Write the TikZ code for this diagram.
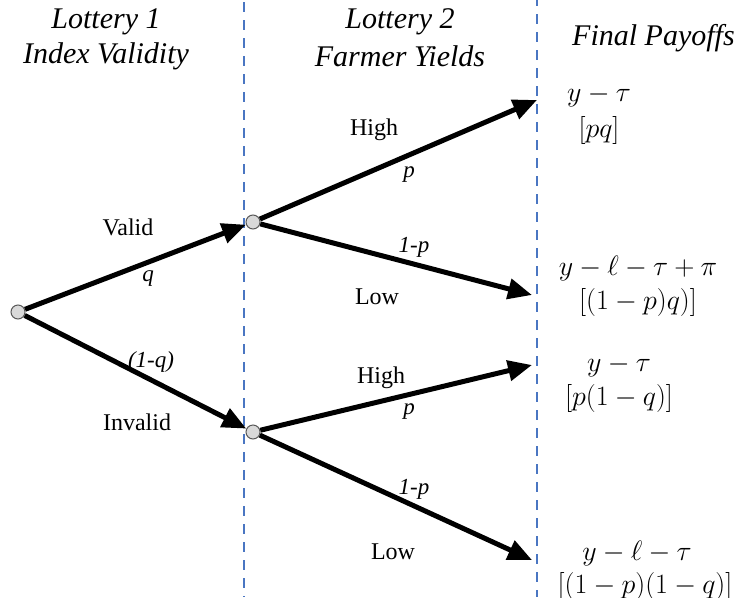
\documentclass[tikz,border=0pt]{standalone}
\usepackage{fix-cm}
\usepackage[no-math]{fontspec}
\setmainfont{Liberation Serif}
\newfontfamily\tnr{Liberation Serif}
\usetikzlibrary{arrows.meta}
\definecolor{divblue}{HTML}{4A76C2}
\definecolor{nodegray}{HTML}{D9D9D9}
\begin{document}
\begin{tikzpicture}[x=1pt,y=-1pt,
  chance/.style={circle,draw=black!65,fill=nodegray,line width=1pt,minimum size=14pt,inner sep=0pt},
  branch/.style={line width=5pt,-{Triangle[length=24pt,width=20pt]}},
  divider/.style={divblue,line width=2pt,dash pattern=on 10pt off 8pt},
  heading/.style={font=\tnr\fontsize{30}{34}\selectfont\itshape,align=center,inner sep=0pt},
  lbl/.style={font=\tnr\fontsize{24}{28}\selectfont,inner sep=0pt},
  prob/.style={font=\tnr\fontsize{23}{27}\selectfont\itshape,inner sep=0pt},
  payoff/.style={font=\fontsize{28}{33}\selectfont,align=center,inner sep=0pt}
]
\useasboundingbox (0,0) rectangle (743,597);
% dividers
\coordinate (d1t) at (244,2);
\coordinate (d1b) at (244,597);
\coordinate (d2t) at (537,-4);
\coordinate (d2b) at (537,597);
\draw[divider] (d1t) -- (d1b);
\draw[divider] (d2t) -- (d2b);
% headings
\node[heading] (h1a) at (106,22) {Lottery 1};
\node[heading] (h1b) at (106,56) {Index Validity};
\node[heading] (h2a) at (400,22) {Lottery 2};
\node[heading] (h2b) at (400,56) {Farmer Yields};
\node[heading,anchor=west] (h3) at (572,38) {Final Payoffs};
% chance nodes
\node[chance] (root) at (18,312) {};
\node[chance] (mid1) at (253,222) {};
\node[chance] (mid2) at (253,432) {};
% arrow ends
\coordinate (e1) at (537,100);
\coordinate (e2) at (532,295);
\coordinate (e3) at (532,365);
\coordinate (e4) at (532,560);
% branches
\draw[branch] (root) -- (mid1);
\draw[branch] (root) -- (mid2);
\draw[branch] (mid1) -- (e1);
\draw[branch] (mid1) -- (e2);
\draw[branch] (mid2) -- (e3);
\draw[branch] (mid2) -- (e4);
% branch labels
\node[lbl] (lvalid) at (128,227) {Valid};
\node[prob] (lq) at (148,279) {q};
\node[prob] (l1q) at (151,362) {(1-q)};
\node[lbl] (linvalid) at (137,422) {Invalid};
\node[lbl] (lhigh1) at (374,130) {High};
\node[prob] (lp1) at (409,175) {p};
\node[prob] (l1p1) at (414,247) {1-p};
\node[lbl] (llow1) at (377,297) {Low};
\node[lbl] (lhigh2) at (381,378) {High};
\node[prob] (lp2) at (409,412) {p};
\node[prob] (l1p2) at (414,489) {1-p};
\node[lbl] (llow2) at (393,552) {Low};
% payoffs
\node[payoff] (p1a) at (599,96) {$y-\tau$};
\node[payoff] (p1b) at (599,130) {$[pq]$};
\node[payoff] (p2a) at (638,268) {$y-\ell-\tau+\pi$};
\node[payoff] (p2b) at (638,302) {$[(1-p)q)]$};
\node[payoff] (p3a) at (619,366) {$y-\tau$};
\node[payoff] (p3b) at (619,398) {$[p(1-q)]$};
\node[payoff] (p4a) at (637,553) {$y-\ell-\tau$};
\node[payoff] (p4b) at (645,586) {$[(1-p)(1-q)]$};
\end{tikzpicture}
\end{document}
